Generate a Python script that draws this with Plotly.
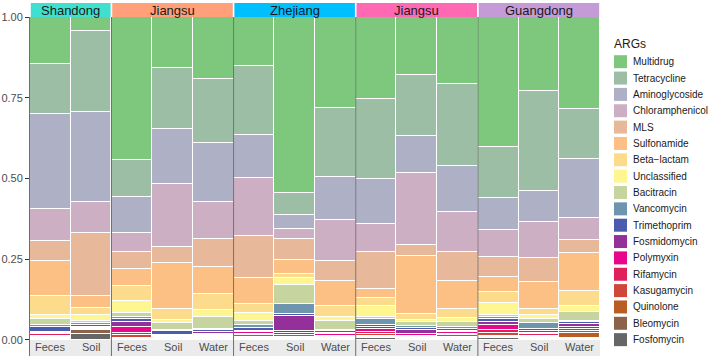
import plotly.graph_objects as go

# ---------------- data ----------------
regions = ["Shandong", "Jiangsu", "Zhejiang", "Jiangsu", "Guangdong"]
region_colors = ["#40E0D0", "#FFA07A", "#00BFFF", "#FF69B4", "#C49BD6"]
region_sizes = [2, 3, 3, 3, 3]
sample_labels = ["Feces", "Soil",
                 "Feces", "Soil", "Water",
                 "Feces", "Soil", "Water",
                 "Feces", "Soil", "Water",
                 "Feces", "Soil", "Water"]

args_top_to_bottom = ["Multidrug", "Tetracycline", "Aminoglycoside", "Chloramphenicol", "MLS",
                      "Sulfonamide", "Beta\u2212lactam", "Unclassified", "Bacitracin", "Vancomycin",
                      "Trimethoprim", "Fosmidomycin", "Polymyxin", "Rifamycin", "Kasugamycin",
                      "Quinolone", "Bleomycin", "Fosfomycin"]
arg_colors = ["#7DC87D", "#9BBEA5", "#AEB0C6", "#CDAFC3", "#E8B89A",
              "#FDC084", "#FDDB8C", "#FDF691", "#C6D5A0", "#6E94AE",
              "#4B5BAE", "#95309A", "#E8068C", "#E0205A", "#D0473A",
              "#B85E24", "#8C624A", "#666666"]

multidrug       = [0.147, 0.044, 0.440, 0.158, 0.192, 0.153, 0.545, 0.282, 0.254, 0.181, 0.206, 0.402, 0.228, 0.282]
tetracycline    = [0.155, 0.251, 0.116, 0.189, 0.198, 0.211, 0.067, 0.214, 0.248, 0.189, 0.254, 0.159, 0.307, 0.156]
aminoglycoside  = [0.293, 0.278, 0.110, 0.170, 0.183, 0.135, 0.044, 0.132, 0.139, 0.113, 0.143, 0.098, 0.096, 0.182]
chloramphenicol = [0.098, 0.096, 0.059, 0.194, 0.115, 0.179, 0.031, 0.129, 0.086, 0.222, 0.125, 0.085, 0.111, 0.068]
mls             = [0.062, 0.195, 0.053, 0.051, 0.085, 0.130, 0.065, 0.062, 0.116, 0.035, 0.090, 0.060, 0.074, 0.038]
sulfonamide     = [0.110, 0.038, 0.052, 0.140, 0.084, 0.080, 0.043, 0.076, 0.028, 0.179, 0.087, 0.046, 0.083, 0.117]
beta_lactam     = [0.0585, 0.0205, 0.046, 0.037, 0.050, 0.029, 0.014, 0.035, 0.024, 0.019, 0.026, 0.034, 0.020, 0.048]
unclassified    = [0.0135, 0.0205, 0.038, 0.008, 0.021, 0.023, 0.020, 0.013, 0.033, 0.008, 0.015, 0.038, 0.011, 0.018]
bacitracin      = [0.018, 0.004, 0.012, 0.022, 0.038, 0.013, 0.059, 0.026, 0.008, 0.011, 0.015, 0.007, 0.013, 0.027]
vancomycin      = [0.006, 0.006, 0.006, 0.004, 0.004, 0.008, 0.031, 0.004, 0.019, 0.006, 0.005, 0.006, 0.020, 0.004]
trimethoprim    = [0.0155, 0.006, 0.010, 0.010, 0.007, 0.010, 0.005, 0.006, 0.005, 0.006, 0.006, 0.008, 0.005, 0.007]
fosmidomycin    = [0.003, 0.003, 0.013, 0.003, 0.004, 0.004, 0.049, 0.004, 0.006, 0.014, 0.005, 0.010, 0.005, 0.007]
polymyxin       = [0.003, 0.002, 0.019, 0.004, 0.003, 0.005, 0.004, 0.004, 0.009, 0.004, 0.004, 0.015, 0.004, 0.006]
rifamycin       = [0.007, 0.002, 0.008, 0.004, 0.004, 0.005, 0.008, 0.003, 0.007, 0.005, 0.005, 0.010, 0.006, 0.007]
kasugamycin     = [0.003, 0.002, 0.007, 0.002, 0.003, 0.004, 0.004, 0.003, 0.005, 0.002, 0.004, 0.008, 0.003, 0.008]
quinolone       = [0.002, 0.003, 0.003, 0.001, 0.003, 0.003, 0.003, 0.003, 0.004, 0.002, 0.003, 0.004, 0.003, 0.014]
bleomycin       = [0.002, 0.012, 0.002, 0.001, 0.003, 0.004, 0.005, 0.002, 0.004, 0.002, 0.003, 0.004, 0.003, 0.003]
fosfomycin      = [0.004, 0.017, 0.002, 0.001, 0.003, 0.003, 0.002, 0.002, 0.005, 0.002, 0.004, 0.005, 0.003, 0.003]

series = [multidrug, tetracycline, aminoglycoside, chloramphenicol, mls, sulfonamide, beta_lactam,
          unclassified, bacitracin, vancomycin, trimethoprim, fosmidomycin, polymyxin, rifamycin,
          kasugamycin, quinolone, bleomycin, fosfomycin]

y_ticks = [0, 0.25, 0.5, 0.75, 1.0]
y_ticklabels = ["0.00", "0.25", "0.50", "0.75", "1.00"]

# ---------------- figure ----------------
W, H = 708, 356
ML, MR, MT, MB = 30, 108, 17, 0
PW, PH = W - ML - MR, H - MT - MB


def px_x(px):
    return (px - ML) / PW


def px_y(py):
    return (H - MB - py) / PH


xpos = list(range(len(sample_labels)))
fig = go.Figure()
# add from bottom (Fosfomycin) to top (Multidrug)
for name, vals, col in reversed(list(zip(args_top_to_bottom, series, arg_colors))):
    fig.add_trace(go.Bar(x=xpos, y=vals, name=name, width=1.0, showlegend=False,
                         marker=dict(color=col, line=dict(color="white", width=1))))

FONT = "Liberation Sans, Arial, sans-serif"

shapes = []
annotations = []

# facet strips and panel separators
start = 0
bounds = []
for reg, col, n in zip(regions, region_colors, region_sizes):
    x0 = start - 0.5
    x1 = start + n - 0.5
    bounds.append(x0)
    shapes.append(dict(type="rect", xref="x", yref="paper", x0=x0 + 0.02, x1=x1 - 0.02,
                       y0=1.0, y1=px_y(3), fillcolor=col, line=dict(width=0), layer="above"))
    annotations.append(dict(xref="x", yref="paper", x=(x0 + x1) / 2, y=(1.0 + px_y(3)) / 2, text=reg,
                            showarrow=False, font=dict(family=FONT, size=13, color="#1A1A1A"),
                            xanchor="center", yanchor="middle"))
    start += n
for b in bounds[1:]:
    shapes.append(dict(type="line", xref="x", yref="paper", x0=b, x1=b, y0=0, y1=1,
                       line=dict(color="#6E6E6E", width=1), layer="above"))

# x category labels (sit inside the panel, below the bars)
for xi, lab in zip(xpos, sample_labels):
    annotations.append(dict(xref="x", yref="paper", x=xi, y=px_y(346.5), text=lab, showarrow=False,
                            font=dict(family=FONT, size=11, color="#4D4D4D"),
                            xanchor="center", yanchor="middle"))

# legend (drawn as keys + labels)
annotations.append(dict(xref="paper", yref="paper", x=px_x(612), y=px_y(44), text="ARGs",
                        showarrow=False, font=dict(family=FONT, size=12, color="#1A1A1A"),
                        xanchor="left", yanchor="middle"))
row_h = 16.35
for i, (name, col) in enumerate(zip(args_top_to_bottom, arg_colors)):
    cy = 61.7 + i * row_h
    shapes.append(dict(type="rect", xref="paper", yref="paper",
                       x0=px_x(614), x1=px_x(627), y0=px_y(cy + 6.5), y1=px_y(cy - 6.5),
                       fillcolor=col, line=dict(width=0)))
    annotations.append(dict(xref="paper", yref="paper", x=px_x(631), y=px_y(cy), text=name,
                            showarrow=False, font=dict(family=FONT, size=10, color="#1A1A1A"),
                            xanchor="left", yanchor="middle"))

fig.update_layout(
    width=W, height=H,
    margin=dict(l=ML, r=MR, t=MT, b=MB, autoexpand=False),
    paper_bgcolor="white", plot_bgcolor="#EBEBEB",
    barmode="stack", barnorm="fraction", bargap=0,
    font=dict(family=FONT, size=11, color="#1A1A1A"),
    shapes=shapes, annotations=annotations, showlegend=False,
    xaxis=dict(range=[-0.5, len(sample_labels) - 0.5], showticklabels=False, ticks="",
               showgrid=False, zeroline=False, showline=False),
    yaxis=dict(range=[-0.05, 1.0], tickmode="array", tickvals=y_ticks, ticktext=y_ticklabels,
               ticks="outside", ticklen=4, tickcolor="#333333", tickwidth=1,
               tickfont=dict(size=11, color="#4D4D4D"), showgrid=False, zeroline=False,
               showline=True, linecolor="#6E6E6E", linewidth=1),
)

fig.write_html("out.html", config={"displayModeBar": False},
               post_script="document.body.style.margin='0';document.body.style.overflow='hidden';")
